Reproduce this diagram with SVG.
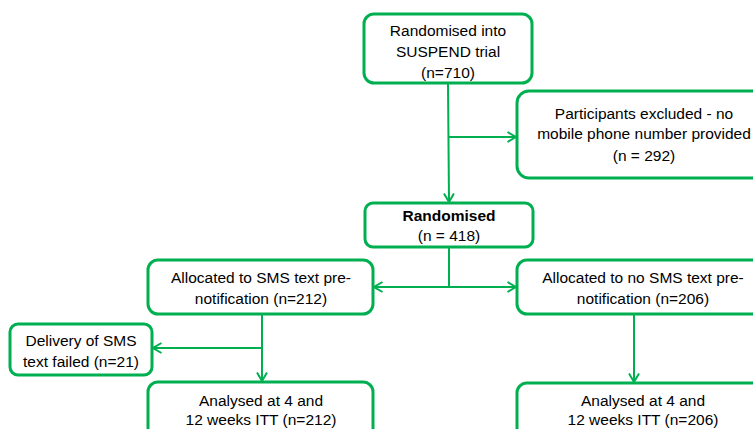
<svg xmlns="http://www.w3.org/2000/svg" width="753" height="429" viewBox="0 0 753 429">
<defs>
<style>
.box{fill:#fff;stroke:#00B050;stroke-width:3}
.t{font-family:"Liberation Sans",Arial,sans-serif;font-size:15.5px;fill:#000;text-anchor:middle}
.b{font-weight:bold}
.c{fill:none;stroke:#00B050;stroke-width:2}
</style>
<marker id="arr" viewBox="0 0 10 12" refX="9.5" refY="6" markerWidth="10" markerHeight="12" markerUnits="userSpaceOnUse" orient="auto">
<path d="M1,1 L9.5,6 L1,11" fill="none" stroke="#00B050" stroke-width="2"/>
</marker>
</defs>
<rect width="753" height="429" fill="#fff"/>
<g id="connectors">
<path class="c" d="M448,84 L449,202" marker-end="url(#arr)"/>
<path class="c" d="M448,137 L516,137" marker-end="url(#arr)"/>
<path class="c" d="M449,248 L449,287"/>
<path class="c" d="M449,287 L374,287" marker-end="url(#arr)"/>
<path class="c" d="M449,287 L516,287" marker-end="url(#arr)"/>
<path class="c" d="M262,315 L262,381" marker-end="url(#arr)"/>
<path class="c" d="M262,348 L153,348" marker-end="url(#arr)"/>
<path class="c" d="M634,315 L634,382" marker-end="url(#arr)"/>
</g>
<g id="n1">
<rect class="box" x="364" y="14" width="168" height="69" rx="10"/>
<text class="t" x="448" y="36">Randomised into</text>
<text class="t" x="448" y="57">SUSPEND trial</text>
<text class="t" x="448" y="78">(n=710)</text>
</g>
<g id="n2">
<rect class="box" x="517" y="91" width="250" height="87" rx="12"/>
<text class="t" x="644" y="119">Participants excluded - no</text>
<text class="t" x="644" y="139">mobile phone number provided</text>
<text class="t" x="644" y="161">(n = 292)</text>
</g>
<g id="n3">
<rect class="box" x="365" y="203" width="168" height="44" rx="8"/>
<text class="t b" x="449" y="221">Randomised</text>
<text class="t" x="449" y="241">(n = 418)</text>
</g>
<g id="n4">
<rect class="box" x="148" y="260" width="225" height="54" rx="10"/>
<text class="t" x="261" y="283">Allocated to SMS text pre-</text>
<text class="t" x="261" y="304">notification (n=212)</text>
</g>
<g id="n5">
<rect class="box" x="517" y="260" width="250" height="54" rx="10"/>
<text class="t" x="643" y="283">Allocated to no SMS text pre-</text>
<text class="t" x="643" y="304">notification (n=206)</text>
</g>
<g id="n6">
<rect class="box" x="10" y="324" width="142" height="51" rx="8"/>
<text class="t" x="81" y="346">Delivery of SMS</text>
<text class="t" x="81" y="367">text failed (n=21)</text>
</g>
<g id="n7">
<rect class="box" x="148" y="382" width="225" height="60" rx="10"/>
<text class="t" x="261" y="406">Analysed at 4 and</text>
<text class="t" x="261" y="425">12 weeks ITT (n=212)</text>
</g>
<g id="n8">
<rect class="box" x="517" y="383" width="250" height="60" rx="10"/>
<text class="t" x="643" y="406">Analysed at 4 and</text>
<text class="t" x="643" y="425">12 weeks ITT (n=206)</text>
</g>
</svg>
